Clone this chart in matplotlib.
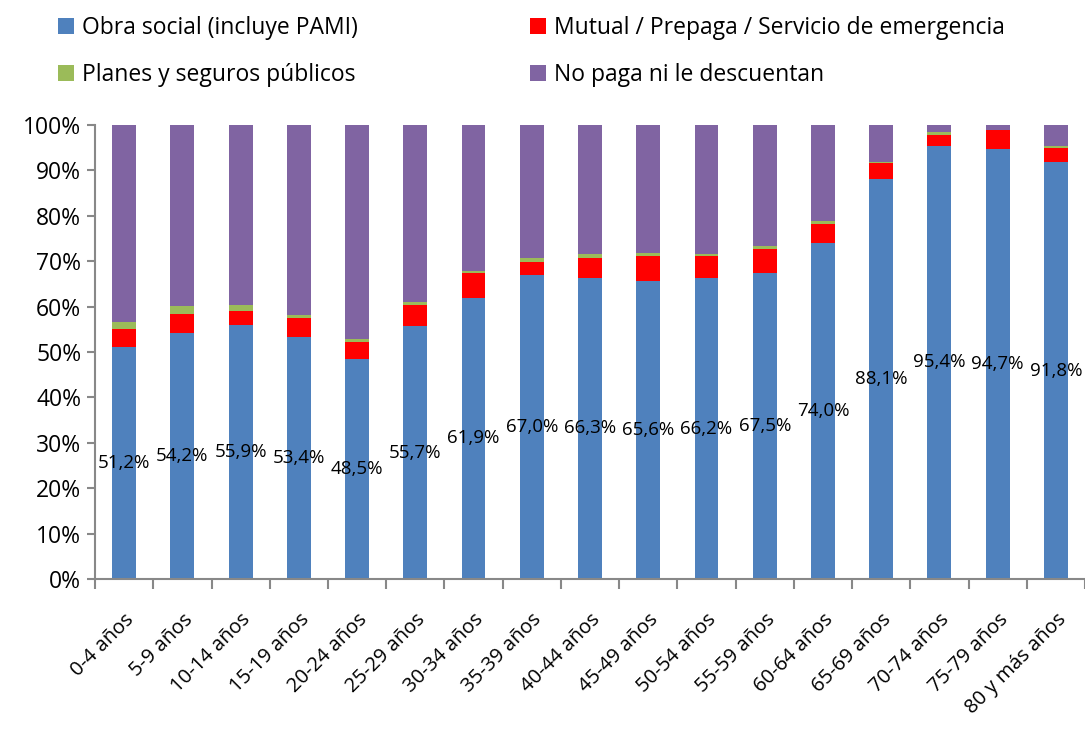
import numpy as np
import matplotlib.pyplot as plt

grupos = ['0-4 años', '5-9 años', '10-14 años', '15-19 años', '20-24 años',
          '25-29 años', '30-34 años', '35-39 años', '40-44 años', '45-49 años',
          '50-54 años', '55-59 años', '60-64 años', '65-69 años', '70-74 años',
          '75-79 años', '80 y más años']
obra_social = [51.2, 54.2, 55.9, 53.4, 48.5, 55.7, 61.9, 67.0, 66.3, 65.6,
               66.2, 67.5, 74.0, 88.1, 95.4, 94.7, 91.8]
mutual = [3.8, 4.1, 3.2, 4.0, 3.8, 4.7, 5.4, 2.9, 4.5, 5.6,
          4.9, 5.2, 4.1, 3.5, 2.5, 4.1, 3.2]
planes = [1.7, 1.8, 1.3, 0.7, 0.6, 0.7, 0.6, 0.7, 0.8, 0.6,
          0.5, 0.7, 0.8, 0.2, 0.6, 0.2, 0.3]
no_paga = [43.3, 39.9, 39.6, 41.9, 47.1, 38.9, 32.1, 29.4, 28.4, 28.2,
           28.4, 26.6, 21.1, 8.3, 1.5, 1.1, 4.6]

plt.rcParams['font.family'] = ['Open Sans', 'DejaVu Sans']

fig = plt.figure(figsize=(10.85, 7.29), dpi=100)
ax = fig.add_axes([0.0876, 0.2058, 0.9124, 0.6227])

x = np.arange(len(grupos))
w = 0.41
series = [
    ('Obra social (incluye PAMI)', obra_social, '#4F81BD'),
    ('Mutual / Prepaga / Servicio de emergencia', mutual, '#FF0000'),
    ('Planes y seguros públicos', planes, '#9BBB59'),
    ('No paga ni le descuentan', no_paga, '#8064A2'),
]
bottom = np.zeros(len(grupos))
handles = []
for name, vals, col in series:
    v = np.array(vals)
    b = ax.bar(x, v, w, bottom=bottom, color=col, label=name, edgecolor='none')
    handles.append(b)
    bottom += v

# etiquetas de obra social centradas en el segmento azul
for xi, v in zip(x, obra_social):
    ax.text(xi, v / 2, f'{v:.1f}%'.replace('.', ','), ha='center', va='center',
            fontsize=13.5, color='black')

ax.set_xlim(-0.5, len(grupos) - 0.5)
ax.set_ylim(0, 100)
ax.set_yticks(np.arange(0, 101, 10))
ax.set_yticklabels([f'{t}%' for t in range(0, 101, 10)], fontsize=16.5)
ax.set_xticks(x)
ax.set_xticklabels(grupos, rotation=45, ha='right', rotation_mode='anchor', fontsize=14.5)
ax.set_xticks(np.arange(-0.5, len(grupos), 1), minor=True)
ax.tick_params(axis='x', which='major', length=0, pad=22)
ax.tick_params(axis='x', which='minor', length=7, color='#888888', width=1.5)
ax.tick_params(axis='y', length=6, color='#888888', width=1.5, pad=4)
for s in ['top', 'right']:
    ax.spines[s].set_visible(False)
for s in ['left', 'bottom']:
    ax.spines[s].set_color('#888888')
    ax.spines[s].set_linewidth(1.5)

# orden por filas como en el original
orden = [0, 2, 1, 3]
fig.legend(handles=[handles[i] for i in orden],
           labels=[series[i][0] for i in orden], loc='upper left',
           bbox_to_anchor=(0.039, 1.0), ncol=2, frameon=False, fontsize=16.5,
           handlelength=0.7, handleheight=0.7, handletextpad=0.35,
           columnspacing=7.5, labelspacing=1.0, borderaxespad=0.3)

fig.savefig('out.png', dpi=100)
